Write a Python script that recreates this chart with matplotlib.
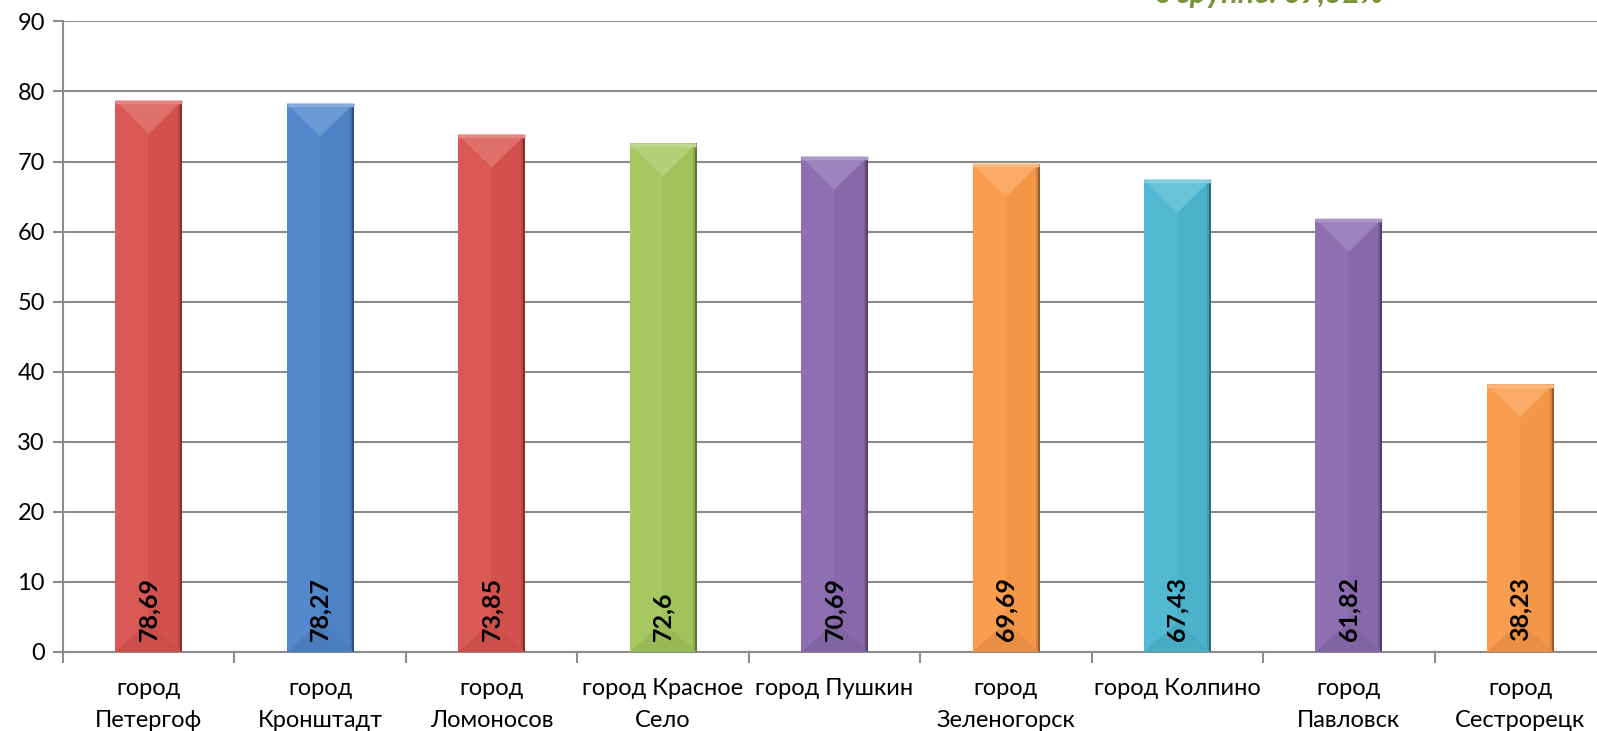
#!/usr/bin/env python3
import numpy as np
import matplotlib
matplotlib.use("Agg")
import matplotlib.pyplot as plt
from matplotlib.colors import to_rgb
from matplotlib.patches import Polygon

plt.rcParams['font.family'] = ['Lato', 'DejaVu Sans']

# data
cities = ["город\nПетергоф", "город\nКронштадт", "город\nЛомоносов",
          "город Красное\nСело", "город Пушкин", "город\nЗеленогорск",
          "город Колпино", "город\nПавловск", "город\nСестрорецк"]
values = [78.69, 78.27, 73.85, 72.6, 70.69, 69.69, 67.43, 61.82, 38.23]
value_labels = ["78,69", "78,27", "73,85", "72,6", "70,69", "69,69",
                "67,43", "61,82", "38,23"]
colors = ["#D9544F", "#4F86CC", "#D9544F", "#A4C75E", "#8A6BB0",
          "#FA9A4A", "#4CB8D1", "#8A6BB0", "#FA9A4A"]
note = "в группе: 69,32%"

W, H = 1597, 731
fig = plt.figure(figsize=(W / 100, H / 100), dpi=100)
ax = fig.add_axes([63 / W, 79 / H, (1606 - 63) / W, (652 - 21.4) / H])

x = np.arange(len(values))
width = 0.39
bars = ax.bar(x, values, width=width, color=colors, zorder=3, linewidth=0)


def shade(c, f):
    c = np.array(to_rgb(c))
    if f > 0:
        return tuple(c + (1 - c) * f)
    return tuple(c * (1 + f))


# fake excel bevel: horizontal gradient + light top / dark bottom triangles
px_per_unit = (652 - 21.4) / 90.0
for b, c in zip(bars, colors):
    x0, w, h = b.get_x(), b.get_width(), b.get_height()
    cx = x0 + w / 2
    depth = 33 / px_per_unit
    grad = np.linspace(0, 1, 60)
    cols = np.array([shade(c, 0.03) if g < 0.5 else shade(c, -0.025) for g in grad])
    cols[-4:-2] = shade(c, -0.15)
    cols[-2:] = shade(c, -0.4)
    img = ax.imshow(cols[np.newaxis, :, :], extent=(x0, x0 + w, 0, h),
                    aspect='auto', zorder=3, interpolation='nearest')
    img.set_clip_path(b)
    top = Polygon([(x0, h), (x0 + w, h), (cx, h - depth)], closed=True,
                  facecolor=shade(c, 0.16), edgecolor='none', zorder=4)
    ax.add_patch(top)
    ax.plot([x0, x0 + w], [h - 0.2, h - 0.2], color=shade(c, 0.3),
            lw=2.5, zorder=5, solid_capstyle='butt')
    bot = Polygon([(x0, 0), (x0 + w, 0), (cx, depth * 0.9)], closed=True,
                  facecolor=shade(c, -0.07), edgecolor='none', zorder=4)
    ax.add_patch(bot)

for xi, lab in zip(x, value_labels):
    ax.text(xi, 1.6, lab, rotation=90, ha='center', va='bottom',
            fontsize=18, fontweight='bold', color='black', zorder=6)

ax.set_xlim(-0.5, len(values) - 0.5)
ax.set_ylim(0, 90)
ax.set_yticks(np.arange(0, 91, 10))
ax.grid(axis='y', color='#8C8C8C', lw=1.5, zorder=0)
ax.set_axisbelow(True)

ax.set_xticks(x)
ax.set_xticklabels(cities, fontsize=17, linespacing=1.6, va='top')
ax.set_xticks(np.arange(len(values) + 1) - 0.5, minor=True)
ax.tick_params(axis='x', which='major', length=0, pad=19)
ax.tick_params(axis='x', which='minor', length=8, width=1.5, color='#8C8C8C')
ax.tick_params(axis='y', length=7, width=1.5, color='#8C8C8C', labelsize=17, pad=6)

for s in ['top', 'right']:
    ax.spines[s].set_visible(False)
for s in ['left', 'bottom']:
    ax.spines[s].set_color('#8C8C8C')
    ax.spines[s].set_linewidth(1.5)

fig.text(1270 / W, 1 - 2.5 / H, note, ha='center', va='baseline',
         fontsize=22, fontweight='bold', style='italic', color='#77933C')

fig.savefig("out.png", dpi=100)
